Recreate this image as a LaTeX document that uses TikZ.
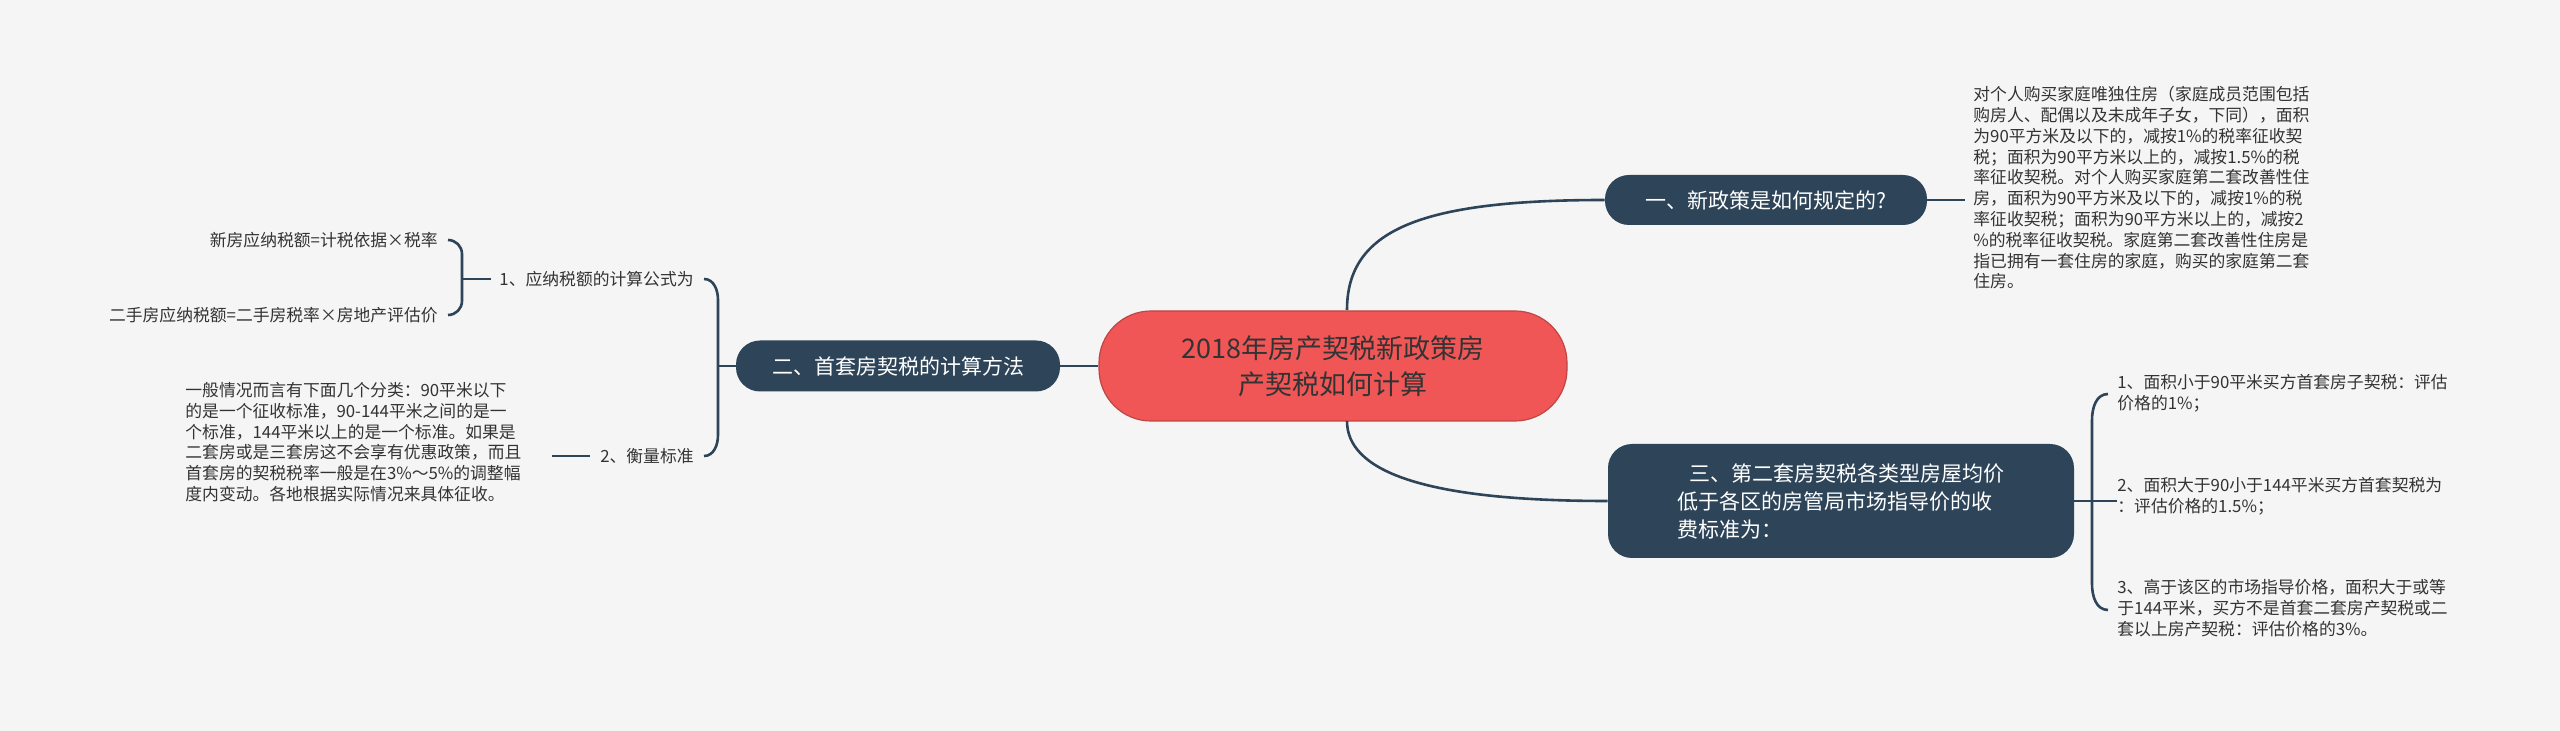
\documentclass[tikz,border=0pt]{standalone}
\usepackage{fontspec}
\usetikzlibrary{calc}
\setmainfont{Noto Sans CJK SC}
\definecolor{navy}{HTML}{2E4459}
\definecolor{redc}{HTML}{F05656}
\definecolor{bg}{HTML}{F5F5F5}
\definecolor{txt}{HTML}{333333}
\begin{document}
\begin{tikzpicture}[x=0.5pt,y=-0.5pt,
  para/.style={inner sep=0pt,align=left,font=\fontsize{8.4pt}{10.4pt}\selectfont,text=txt},
  lab/.style={inner sep=0pt,font=\fontsize{8.4pt}{10.4pt}\selectfont,text=txt},
  branch/.style={fill=navy,rounded corners=12pt,text=white,font=\fontsize{10.5pt}{14pt}\selectfont,inner sep=0pt},
  conn/.style={draw=navy,line width=1.3pt}]
\fill[bg] (0,0) rectangle (2560,731);
\useasboundingbox (0,0) rectangle (2560,731);
% center
\node[fill=redc,draw=redc!80!black,line width=0.6pt,rounded corners=26pt,minimum width=234pt,minimum height=55pt,inner sep=0pt,align=center,text=txt,font=\fontsize{13.5pt}{18pt}\selectfont] (c) at (1333,366) {2018年房产契税新政策房\\产契税如何计算};
% branches
\node[branch,minimum width=161pt,minimum height=25pt] (b1) at (1766,200) {一、新政策是如何规定的?};
\node[branch,minimum width=162pt,minimum height=25.5pt] (b2) at (898,366) {二、首套房契税的计算方法};
\node[branch,minimum width=233pt,minimum height=57pt,align=left] (b3) at (1841,501) {\hspace{0.6em}三、第二套房契税各类型房屋均价\\低于各区的房管局市场指导价的收\\费标准为：};
% connectors from center
\coordinate (ct) at (1347,310);
\coordinate (cb) at (1347,421);
\draw[conn] (ct) .. controls (1347,230) and (1420,200) .. (b1.west);
\draw[conn] (cb) .. controls (1347,470) and (1420,501) .. (b3.west);
\draw[conn] (c.west) -- (b2.east);
% branch 1 paragraph
\node[para,anchor=north west] (p1) at (1973,86) {对个人购买家庭唯独住房（家庭成员范围包括\\购房人、配偶以及未成年子女，下同），面积\\为90平方米及以下的，减按1\%的税率征收契\\税；面积为90平方米以上的，减按1.5\%的税\\率征收契税。对个人购买家庭第二套改善性住\\房，面积为90平方米及以下的，减按1\%的税\\率征收契税；面积为90平方米以上的，减按2\\\%的税率征收契税。家庭第二套改善性住房是\\指已拥有一套住房的家庭，购买的家庭第二套\\住房。};
\coordinate (p1w) at (1965,200);
\draw[conn] (b1.east) -- (p1w);
% branch 3 items
\node[para,anchor=north west] (i1) at (2117,374) {1、面积小于90平米买方首套房子契税：评估\\价格的1\%；};
\node[para,anchor=north west] (i2) at (2117,477) {2、面积大于90小于144平米买方首套契税为\\：评估价格的1.5\%；};
\node[para,anchor=north west] (i3) at (2117,579) {3、高于该区的市场指导价格，面积大于或等\\于144平米，买方不是首套二套房产契税或二\\套以上房产契税：评估价格的3\%。};
\coordinate (t1) at (2108,394);
\coordinate (t3) at (2108,610);
\coordinate (bx) at (2092,501);
\draw[conn] (b3.east) -- (bx);
\draw[conn] (t1) to[out=180,in=90] (2092,420) -- (2092,584) to[out=-90,in=180] (t3);
\draw[conn] (bx) -- (i2.west |- bx);
% left side
\node[lab,anchor=east] (l1) at (694,279) {1、应纳税额的计算公式为};
\node[lab,anchor=east] (l2) at (694,456) {2、衡量标准};
\coordinate (lt) at (704,279);
\coordinate (lb) at (704,456);
\draw[conn] (lt) to[out=0,in=90] (718,300) -- (718,435) to[out=-90,in=0] (lb);
\draw[conn] (b2.west) -- (718,366);
\node[lab,anchor=east] (f1) at (438,240) {新房应纳税额=计税依据×税率};
\node[lab,anchor=east] (f2) at (438,315) {二手房应纳税额=二手房税率×房地产评估价};
\coordinate (f1e) at (448,240);
\coordinate (f2e) at (448,315);
\draw[conn] (f1e) to[out=0,in=90] (462,254) -- (462,301) to[out=-90,in=0] (f2e);
\draw[conn] (462,279) -- ($(l1.west)+(-8,0)$);
\node[para,anchor=north west] (p2) at (185,382) {一般情况而言有下面几个分类：90平米以下\\的是一个征收标准，90-144平米之间的是一\\个标准，144平米以上的是一个标准。如果是\\二套房或是三套房这不会享有优惠政策，而且\\首套房的契税税率一般是在3\%～5\%的调整幅\\度内变动。各地根据实际情况来具体征收。};
\draw[conn] ($(l2.west)+(-10,0)$) -- (552,456);
\end{tikzpicture}
\end{document}
